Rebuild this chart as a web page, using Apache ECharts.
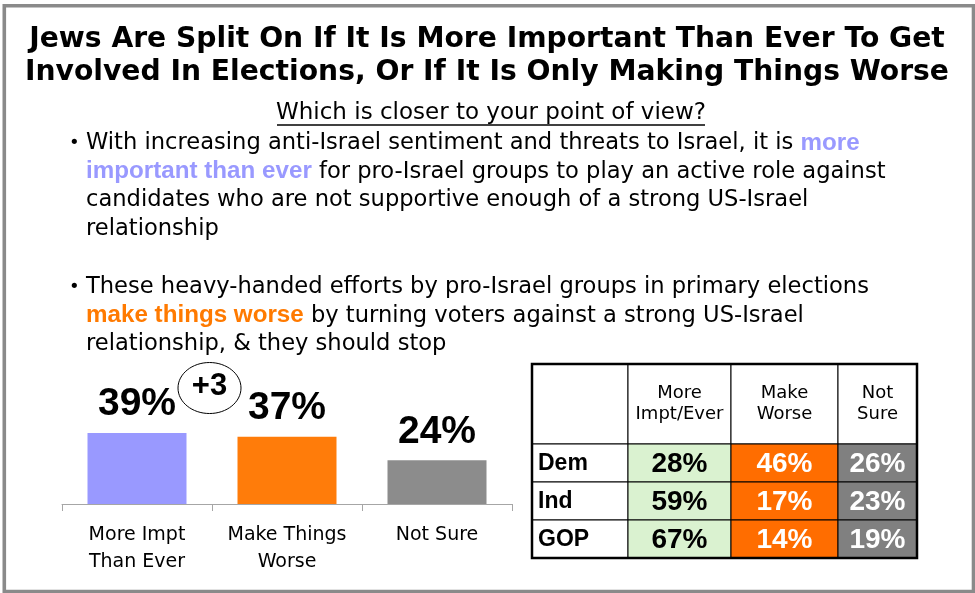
<!DOCTYPE html>
<html><head><meta charset="utf-8">
<script src="https://cdn.jsdelivr.net/npm/echarts@6/dist/echarts.min.js"></script>
<style>html,body{margin:0;padding:0;background:#fff}#c{width:975px;height:593px}</style>
</head><body><div id="c"></div>
<script>
// ---- data ----
const barCategories = ['More Impt\nThan Ever', 'Make Things\nWorse', 'Not Sure'];
const barValues = [39, 37, 24];
const barColors = ['#9999ff', '#ff7c0a', '#8c8c8c'];
const netMarginLabel = '+3'; // net margin as printed on the source (from unrounded figures)

const parties = ['Dem', 'Ind', 'GOP'];
const tableHeaders = ['More\nImpt/Ever', 'Make\nWorse', 'Not\nSure'];
const moreImpt = [28, 59, 67];
const makeWorse = [46, 17, 14];
const notSure = [26, 23, 19];
const tableFills = ['#daf2d0', '#ff6d00', '#808080'];
const tableTextColors = ['#000000', '#ffffff', '#ffffff'];

const titleText = 'Jews Are Split On If It Is More Important Than Ever To Get\nInvolved In Elections, Or If It Is Only Making Things Worse';
const subtitleText = 'Which is closer to your point of view?';
const bullet1 = 'With increasing anti-Israel sentiment and threats to Israel, it is {b|more}\n{b|important than ever} for pro-Israel groups to play an active role against\ncandidates who are not supportive enough of a strong US-Israel\nrelationship';
const bullet2 = 'These heavy-handed efforts by pro-Israel groups in primary elections\n{o|make things worse} by turning voters against a strong US-Israel\nrelationship, & they should stop';

// ---- layout (table) ----
const colWidths = [96, 103, 107, 79];
const colEdges = colWidths.reduce((a, w) => { a.push(a[a.length - 1] + w); return a; }, [0]);
const headerH = 80;

const tableCols = [null, moreImpt, makeWorse, notSure];
const cellData = [];
parties.forEach((p, r) => {
  for (let c = 0; c < 4; c++) {
    cellData.push({ value: [c, r], text: c === 0 ? p : tableCols[c][r] + '%' });
  }
});

const chart = echarts.init(document.getElementById('c'), null, { renderer: 'canvas' });

const bodyFont = 'DejaVu Sans';
const bodySize = 22.6;
const hiFont = 'Liberation Sans';
const hiSize = 24.2;
const graphics = [
  { type: 'rect', shape: { x: 4.3, y: 5.7, width: 969.2, height: 585.8 }, style: { fill: 'none', stroke: '#8a8a8a', lineWidth: 3.6 }, z: 100 },
  { type: 'text', x: 487, y: 56.5, style: { text: titleText, font: 'bold 28.2px "DejaVu Sans"', fill: '#000', align: 'center', verticalAlign: 'middle', lineHeight: 33 } },
  { type: 'text', x: 491, y: 113.5, style: { text: subtitleText, font: '23px "DejaVu Sans"', fill: '#000', align: 'center', verticalAlign: 'middle' } },
  { type: 'line', shape: { x1: 277, y1: 125, x2: 705, y2: 125 }, style: { stroke: '#000', lineWidth: 1.3 } },
  { type: 'text', x: 69, y: 143, style: { text: '•', font: '18px "DejaVu Sans"', fill: '#000', verticalAlign: 'middle' } },
  { type: 'text', x: 86, y: 128.6, style: {
      text: bullet1, fontSize: bodySize, fontFamily: bodyFont, fill: '#000', lineHeight: 28.7, verticalAlign: 'top',
      rich: { b: { fontSize: hiSize, fontFamily: hiFont, fontWeight: 'bold', fill: '#9999ff', color: '#9999ff', lineHeight: 28.7 } } } },
  { type: 'text', x: 69, y: 287, style: { text: '•', font: '18px "DejaVu Sans"', fill: '#000', verticalAlign: 'middle' } },
  { type: 'text', x: 86, y: 272.6, style: {
      text: bullet2, fontSize: bodySize, fontFamily: bodyFont, fill: '#000', lineHeight: 28.7, verticalAlign: 'top',
      rich: { o: { fontSize: hiSize, fontFamily: hiFont, fontWeight: 'bold', fill: '#ff7a00', color: '#ff7a00', lineHeight: 28.7 } } } }
];

function cellItem(params, api) {
  const c = api.value(0), r = api.value(1);
  const pL = api.coord([colEdges[c], r]);
  const pR = api.coord([colEdges[c + 1], r]);
  const bh = api.size([0, 1])[1];
  const x0 = pL[0], x1 = pR[0], yc = pL[1];
  const txt = cellData[params.dataIndex].text;
  const isLabel = c === 0;
  return {
    type: 'group',
    children: [
      { type: 'rect', shape: { x: x0, y: yc - bh / 2, width: x1 - x0, height: bh },
        style: { fill: isLabel ? '#ffffff' : tableFills[c - 1], stroke: '#000', lineWidth: 1 } },
      { type: 'text', style: {
          text: txt, x: isLabel ? x0 + 6 : (x0 + x1) / 2, y: yc + 1,
          align: isLabel ? 'left' : 'center', verticalAlign: 'middle',
          font: isLabel ? 'bold 23px "Liberation Sans"' : 'bold 28px "Liberation Sans"',
          fill: isLabel ? '#000' : tableTextColors[c - 1] } }
    ]
  };
}

function headerItem(params, api) {
  const c = api.value(0);
  const pL = api.coord([colEdges[c], 0]);
  const pR = api.coord([colEdges[c + 1], 0]);
  const bh = api.size([0, 1])[1];
  const x0 = pL[0], x1 = pR[0], yb = pL[1] - bh / 2;
  return {
    type: 'group',
    children: [
      { type: 'rect', shape: { x: x0, y: yb - headerH, width: x1 - x0, height: headerH },
        style: { fill: '#fff', stroke: '#000', lineWidth: 1 } },
      { type: 'text', style: {
          text: c === 0 ? '' : tableHeaders[c - 1], x: (x0 + x1) / 2, y: yb - headerH / 2,
          align: 'center', verticalAlign: 'middle', font: '18px "DejaVu Sans"', lineHeight: 21, fill: '#000' } }
    ]
  };
}

function borderItem(params, api) {
  const pTL = api.coord([colEdges[0], 0]);
  const pBR = api.coord([colEdges[colEdges.length - 1], parties.length - 1]);
  const bh = api.size([0, 1])[1];
  const y0 = pTL[1] - bh / 2 - headerH, y1 = pBR[1] + bh / 2;
  return { type: 'rect', shape: { x: pTL[0], y: y0, width: pBR[0] - pTL[0], height: y1 - y0 },
    style: { fill: 'none', stroke: '#000', lineWidth: 2.5 } };
}

const option = {
  animation: false,
  backgroundColor: '#ffffff',
  grid: [
    { left: 62, top: 322, width: 450, height: 182 },
    { left: 532, top: 444, width: 385, height: 114 }
  ],
  xAxis: [
    { type: 'category', gridIndex: 0, data: barCategories,
      axisLine: { lineStyle: { color: '#a6a6a6', width: 1 } },
      axisTick: { show: true, length: 7, lineStyle: { color: '#a6a6a6' } },
      axisLabel: { interval: 0, fontSize: 19, fontFamily: 'DejaVu Sans', color: '#000', lineHeight: 27, margin: 18 } },
    { type: 'value', gridIndex: 1, min: 0, max: colEdges[colEdges.length - 1], show: false }
  ],
  yAxis: [
    { type: 'value', gridIndex: 0, min: 0, max: 100, show: false },
    { type: 'category', gridIndex: 1, data: parties, inverse: true, show: false }
  ],
  series: [
    { type: 'bar', xAxisIndex: 0, yAxisIndex: 0, barWidth: 99,
      data: barValues.map((v, i) => ({ value: v, itemStyle: { color: barColors[i] } })),
      label: { show: true, position: 'top', distance: 9, formatter: '{c}%', fontSize: 39, fontWeight: 'bold',
        fontFamily: 'Liberation Sans', color: '#000' } },
    { type: 'custom', xAxisIndex: 1, yAxisIndex: 1, renderItem: headerItem, clip: false,
      data: [0, 1, 2, 3].map(c => [c, 0]), z: 2 },
    { type: 'custom', xAxisIndex: 1, yAxisIndex: 1, renderItem: cellItem, clip: false,
      data: cellData.map(d => d.value), z: 2 },
    { type: 'custom', xAxisIndex: 1, yAxisIndex: 1, renderItem: borderItem, clip: false,
      data: [[0, 0]], z: 5 }
  ],
  graphic: graphics
};
chart.setOption(option);

// net-margin bubble placed from the bar scale
const p0 = chart.convertToPixel({ gridIndex: 0 }, [0, barValues[0]]);
const p1 = chart.convertToPixel({ gridIndex: 0 }, [1, barValues[1]]);
const topY = chart.convertToPixel({ gridIndex: 0 }, [0, Math.max(barValues[0], barValues[1])])[1];
const cx = (p0[0] + p1[0]) / 2 - 2.5, cy = topY - 45;
chart.setOption({ graphic: graphics.concat([
  { type: 'ellipse', shape: { cx: cx, cy: cy, rx: 31.5, ry: 25.5 }, style: { fill: 'none', stroke: '#000', lineWidth: 1 } },
  { type: 'text', x: cx, y: cy - 2, style: { text: netMarginLabel, font: 'bold 31px "Liberation Sans"', fill: '#000', align: 'center', verticalAlign: 'middle' } }
]) });
</script></body></html>
